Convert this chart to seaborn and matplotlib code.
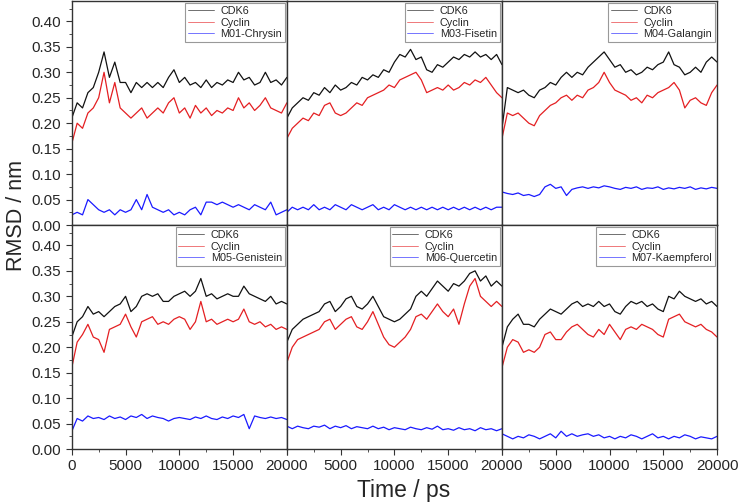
import matplotlib as mpl

mpl.use("Agg")  # headless

import matplotlib.pyplot as plt
import pandas as pd
import seaborn as sns
from matplotlib.ticker import FormatStrFormatter, MultipleLocator

# sampling times (ps), one value every 500 ps
TIME_PS = list(range(0, 20001, 500))

LIGANDS = ["M01-Chrysin", "M03-Fisetin", "M04-Galangin",
           "M05-Genistein", "M06-Quercetin", "M07-Kaempferol"]

# RMSD values in nm
CDK6_M01 = [.21, .24, .23, .26, .27, .30, .34, .29, .32, .28, .28, .26, .28, .27, .28, .27, .28, .27, .29, .305,
            .28, .29, .275, .28, .27, .285, .27, .28, .275, .285, .28, .30, .285, .29, .275, .28, .30, .28, .285,
            .275, .29]
CYCLIN_M01 = [.16, .20, .19, .22, .23, .25, .30, .24, .28, .23, .22, .21, .22, .23, .21, .22, .23, .22, .24, .25,
              .22, .23, .21, .235, .22, .23, .215, .225, .22, .23, .225, .25, .23, .24, .225, .235, .25, .23, .225,
              .22, .24]
LIG_M01 = [.02, .025, .02, .05, .04, .03, .025, .03, .02, .03, .025, .03, .05, .03, .06, .035, .03, .025, .03, .02,
           .025, .02, .03, .035, .02, .045, .045, .04, .045, .04, .035, .04, .035, .03, .04, .035, .03, .045, .02,
           .025, .03]

CDK6_M03 = [.21, .23, .24, .25, .245, .26, .255, .27, .26, .275, .265, .27, .28, .275, .29, .285, .295, .29, .305,
            .30, .32, .335, .33, .345, .325, .33, .305, .30, .315, .31, .32, .33, .325, .335, .33, .34, .33, .335,
            .325, .335, .315]
CYCLIN_M03 = [.17, .19, .20, .21, .205, .22, .215, .235, .24, .22, .215, .22, .23, .24, .235, .25, .255, .26, .265,
              .275, .27, .285, .29, .295, .30, .285, .26, .265, .27, .265, .275, .265, .27, .28, .275, .285, .28,
              .29, .275, .26, .25]
LIG_M03 = [.025, .035, .03, .035, .03, .04, .03, .035, .03, .04, .035, .03, .04, .035, .03, .035, .04, .03, .035,
           .03, .04, .035, .03, .035, .03, .035, .03, .035, .03, .035, .03, .035, .03, .035, .03, .035, .03, .035,
           .03, .035, .035]

CDK6_M04 = [.19, .27, .265, .26, .265, .255, .25, .265, .27, .28, .275, .29, .30, .29, .30, .295, .31, .32, .33,
            .34, .325, .31, .315, .30, .305, .295, .30, .31, .305, .315, .32, .34, .315, .31, .295, .30, .31, .30,
            .32, .33, .32]
CYCLIN_M04 = [.17, .22, .215, .22, .21, .20, .195, .215, .225, .235, .24, .25, .255, .245, .255, .25, .265, .27,
              .28, .30, .28, .265, .26, .255, .245, .25, .24, .255, .25, .26, .265, .27, .28, .265, .23, .245, .25,
              .24, .235, .26, .275]
LIG_M04 = [.065, .062, .06, .063, .058, .06, .056, .06, .075, .08, .072, .075, .058, .07, .073, .075, .072, .075,
           .073, .077, .075, .072, .07, .074, .072, .075, .07, .073, .072, .075, .07, .073, .071, .074, .072, .075,
           .07, .073, .071, .074, .072]

CDK6_M05 = [.22, .25, .26, .28, .265, .27, .26, .27, .28, .285, .30, .27, .28, .30, .305, .30, .305, .29, .29, .30,
            .305, .31, .30, .31, .335, .30, .305, .295, .30, .305, .30, .30, .32, .305, .30, .295, .29, .30, .285,
            .29, .285]
CYCLIN_M05 = [.16, .21, .225, .245, .22, .215, .19, .235, .24, .245, .265, .24, .22, .25, .255, .26, .245, .25,
              .245, .255, .26, .255, .235, .25, .29, .25, .255, .245, .25, .255, .25, .255, .275, .25, .245, .25,
              .24, .245, .235, .24, .235]
LIG_M05 = [.035, .06, .055, .065, .06, .062, .058, .065, .06, .063, .058, .065, .062, .068, .06, .065, .062, .06,
           .055, .06, .062, .06, .058, .063, .06, .065, .06, .058, .063, .06, .065, .062, .068, .04, .065, .062, .06,
           .063, .06, .062, .058]

CDK6_M06 = [.21, .235, .245, .255, .26, .265, .27, .285, .29, .27, .28, .295, .30, .28, .275, .285, .30, .28, .26,
            .255, .25, .255, .265, .275, .30, .31, .30, .315, .33, .32, .31, .325, .32, .33, .345, .35, .33, .34,
            .32, .33, .32]
CYCLIN_M06 = [.17, .20, .215, .22, .225, .23, .235, .25, .255, .235, .245, .255, .26, .24, .235, .25, .27, .245,
              .22, .205, .20, .21, .22, .235, .26, .265, .255, .27, .285, .27, .26, .275, .245, .285, .32, .335,
              .30, .29, .28, .29, .28]
LIG_M06 = [.045, .04, .045, .042, .04, .045, .043, .047, .04, .045, .042, .046, .04, .044, .042, .04, .045, .04,
           .043, .038, .042, .04, .038, .043, .04, .038, .042, .039, .045, .038, .04, .037, .042, .038, .04, .036,
           .042, .038, .04, .036, .04]

CDK6_M07 = [.20, .24, .255, .265, .245, .245, .24, .255, .265, .275, .27, .265, .275, .285, .29, .28, .285, .28,
            .29, .28, .285, .27, .265, .28, .29, .285, .29, .28, .285, .275, .27, .30, .295, .31, .30, .295, .29,
            .295, .285, .29, .28]
CYCLIN_M07 = [.16, .20, .215, .21, .19, .195, .19, .20, .225, .23, .215, .215, .23, .24, .245, .235, .225, .22,
              .235, .225, .245, .23, .215, .235, .24, .235, .245, .24, .235, .225, .22, .255, .26, .265, .25, .245,
              .24, .245, .235, .23, .22]
LIG_M07 = [.03, .025, .02, .025, .022, .028, .025, .02, .025, .03, .022, .035, .025, .03, .025, .028, .03, .025,
           .028, .022, .025, .02, .025, .022, .028, .025, .02, .025, .03, .022, .025, .02, .025, .022, .028, .025,
           .02, .024, .022, .02, .025]

CDK6 = [CDK6_M01, CDK6_M03, CDK6_M04, CDK6_M05, CDK6_M06, CDK6_M07]
CYCLIN = [CYCLIN_M01, CYCLIN_M03, CYCLIN_M04, CYCLIN_M05, CYCLIN_M06, CYCLIN_M07]
LIGAND_RMSD = [LIG_M01, LIG_M03, LIG_M04, LIG_M05, LIG_M06, LIG_M07]

COLORS = ["#111111", "#e41f22", "#1a1aff"]


def build_frame(i: int) -> pd.DataFrame:
    """Long-form data for one panel."""
    names = ["CDK6", "Cyclin", LIGANDS[i]]
    values = [CDK6[i], CYCLIN[i], LIGAND_RMSD[i]]
    parts = [pd.DataFrame({"Time": TIME_PS, "RMSD": v, "Series": n}) for n, v in zip(names, values)]
    return pd.concat(parts, ignore_index=True)


sns.set_style("ticks")
plt.rcParams["font.family"] = ["Liberation Sans", "DejaVu Sans"]

fig, axes = plt.subplots(2, 3, figsize=(7.4, 5.04), dpi=100, gridspec_kw={"wspace": 0, "hspace": 0})
fig.subplots_adjust(left=0.097, right=0.969, top=0.998, bottom=0.109)

for i, ax in enumerate(axes.flat):
    df = build_frame(i)
    for name, color in zip(df["Series"].unique(), COLORS):
        sub = df[df["Series"] == name]
        sns.lineplot(x="Time", y="RMSD", data=sub, ax=ax, color=color, lw=0.9, label=name, estimator=None)

    ax.set_xlim(0, 20000)
    ax.set_ylim(0, 0.44)
    ax.set_xlabel("")
    ax.set_ylabel("")
    ax.xaxis.set_major_locator(MultipleLocator(5000))
    ax.xaxis.set_minor_locator(MultipleLocator(2500))
    ax.yaxis.set_major_locator(MultipleLocator(0.05))
    ax.yaxis.set_minor_locator(MultipleLocator(0.025))
    ax.yaxis.set_major_formatter(FormatStrFormatter("%.2f"))
    ax.tick_params(which="major", length=4, width=0.8, direction="out", labelsize=11, color="#333333")
    ax.tick_params(which="minor", length=2, width=0.6, direction="out", color="#333333")
    for spine in ax.spines.values():
        spine.set_visible(True)
        spine.set_color("#333333")
        spine.set_linewidth(1.0)

    row, col = divmod(i, 3)
    if col > 0:
        ax.tick_params(axis="y", which="both", left=False, labelleft=False)
    if row == 0:
        ax.tick_params(axis="x", which="both", bottom=False, labelbottom=False)
    elif col > 0:
        ax.set_xticks([0, 5000, 10000, 15000, 20000])
        ax.set_xticklabels(["", "5000", "10000", "15000", "20000"])

    leg = ax.legend(loc="upper right", fontsize=7.8, frameon=True, fancybox=False, framealpha=1,
                    edgecolor="#999999", borderaxespad=0.2, borderpad=0.25, labelspacing=0.15,
                    handlelength=2.4, handletextpad=0.6)
    leg.get_frame().set_linewidth(0.8)
    for line in leg.get_lines():
        line.set_linewidth(0.6)
        line.set_alpha(0.7)

fig.text(0.022, 0.573, "RMSD / nm", rotation=90, ha="center", va="center", fontsize=15.5)
fig.text(0.545, 0.026, "Time / ps", ha="center", va="center", fontsize=16.5)

fig.savefig("out.png", dpi=100)
